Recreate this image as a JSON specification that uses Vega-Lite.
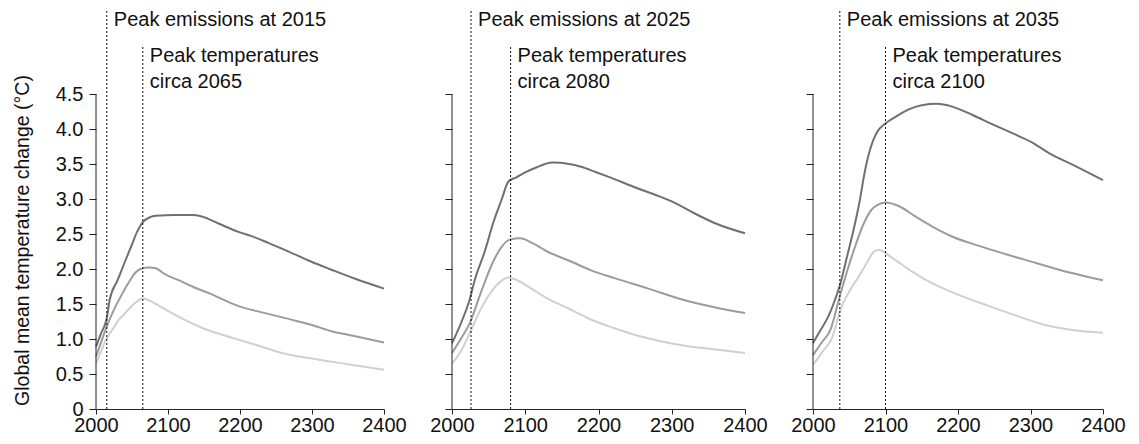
{
  "$schema": "https://vega.github.io/schema/vega-lite/v6.json",
  "padding": {"left": 12, "top": 0, "right": 0, "bottom": 0},
  "background": "white",
  "config": {"view": {"stroke": null}, "font": "Liberation Sans", "text": {"font": "Liberation Sans"}},
  "bounds": "flush",
  "spacing": 68,
  "datasets": {
    "curves": [
      {"panel": 1, "scenario": "high", "year": 2000, "temp": 0.89},
      {"panel": 1, "scenario": "high", "year": 2007, "temp": 1.08},
      {"panel": 1, "scenario": "high", "year": 2015, "temp": 1.30},
      {"panel": 1, "scenario": "high", "year": 2019, "temp": 1.56},
      {"panel": 1, "scenario": "high", "year": 2030, "temp": 1.84},
      {"panel": 1, "scenario": "high", "year": 2040, "temp": 2.10},
      {"panel": 1, "scenario": "high", "year": 2050, "temp": 2.35},
      {"panel": 1, "scenario": "high", "year": 2057, "temp": 2.53},
      {"panel": 1, "scenario": "high", "year": 2065, "temp": 2.67},
      {"panel": 1, "scenario": "high", "year": 2075, "temp": 2.74},
      {"panel": 1, "scenario": "high", "year": 2083, "temp": 2.76},
      {"panel": 1, "scenario": "high", "year": 2110, "temp": 2.77},
      {"panel": 1, "scenario": "high", "year": 2134, "temp": 2.77},
      {"panel": 1, "scenario": "high", "year": 2147, "temp": 2.75},
      {"panel": 1, "scenario": "high", "year": 2170, "temp": 2.65},
      {"panel": 1, "scenario": "high", "year": 2198, "temp": 2.53},
      {"panel": 1, "scenario": "high", "year": 2216, "temp": 2.47},
      {"panel": 1, "scenario": "high", "year": 2240, "temp": 2.37},
      {"panel": 1, "scenario": "high", "year": 2263, "temp": 2.27},
      {"panel": 1, "scenario": "high", "year": 2300, "temp": 2.10},
      {"panel": 1, "scenario": "high", "year": 2327, "temp": 1.99},
      {"panel": 1, "scenario": "high", "year": 2360, "temp": 1.86},
      {"panel": 1, "scenario": "high", "year": 2400, "temp": 1.72},
      {"panel": 1, "scenario": "mid", "year": 2000, "temp": 0.75},
      {"panel": 1, "scenario": "mid", "year": 2008, "temp": 0.98},
      {"panel": 1, "scenario": "mid", "year": 2015, "temp": 1.18},
      {"panel": 1, "scenario": "mid", "year": 2025, "temp": 1.42},
      {"panel": 1, "scenario": "mid", "year": 2035, "temp": 1.62},
      {"panel": 1, "scenario": "mid", "year": 2045, "temp": 1.80},
      {"panel": 1, "scenario": "mid", "year": 2055, "temp": 1.95},
      {"panel": 1, "scenario": "mid", "year": 2062, "temp": 2.00},
      {"panel": 1, "scenario": "mid", "year": 2074, "temp": 2.02},
      {"panel": 1, "scenario": "mid", "year": 2083, "temp": 2.01},
      {"panel": 1, "scenario": "mid", "year": 2095, "temp": 1.93},
      {"panel": 1, "scenario": "mid", "year": 2115, "temp": 1.84},
      {"panel": 1, "scenario": "mid", "year": 2134, "temp": 1.75},
      {"panel": 1, "scenario": "mid", "year": 2160, "temp": 1.64},
      {"panel": 1, "scenario": "mid", "year": 2198, "temp": 1.47},
      {"panel": 1, "scenario": "mid", "year": 2235, "temp": 1.37},
      {"panel": 1, "scenario": "mid", "year": 2270, "temp": 1.28},
      {"panel": 1, "scenario": "mid", "year": 2300, "temp": 1.20},
      {"panel": 1, "scenario": "mid", "year": 2327, "temp": 1.11},
      {"panel": 1, "scenario": "mid", "year": 2360, "temp": 1.04},
      {"panel": 1, "scenario": "mid", "year": 2400, "temp": 0.95},
      {"panel": 1, "scenario": "low", "year": 2000, "temp": 0.65},
      {"panel": 1, "scenario": "low", "year": 2008, "temp": 0.85},
      {"panel": 1, "scenario": "low", "year": 2015, "temp": 1.01},
      {"panel": 1, "scenario": "low", "year": 2025, "temp": 1.17},
      {"panel": 1, "scenario": "low", "year": 2032, "temp": 1.28},
      {"panel": 1, "scenario": "low", "year": 2037, "temp": 1.33},
      {"panel": 1, "scenario": "low", "year": 2044, "temp": 1.41},
      {"panel": 1, "scenario": "low", "year": 2055, "temp": 1.52},
      {"panel": 1, "scenario": "low", "year": 2065, "temp": 1.58},
      {"panel": 1, "scenario": "low", "year": 2072, "temp": 1.56},
      {"panel": 1, "scenario": "low", "year": 2080, "temp": 1.52},
      {"panel": 1, "scenario": "low", "year": 2097, "temp": 1.42},
      {"panel": 1, "scenario": "low", "year": 2124, "temp": 1.27},
      {"panel": 1, "scenario": "low", "year": 2152, "temp": 1.14},
      {"panel": 1, "scenario": "low", "year": 2175, "temp": 1.06},
      {"panel": 1, "scenario": "low", "year": 2198, "temp": 0.99},
      {"panel": 1, "scenario": "low", "year": 2230, "temp": 0.89},
      {"panel": 1, "scenario": "low", "year": 2258, "temp": 0.80},
      {"panel": 1, "scenario": "low", "year": 2300, "temp": 0.72},
      {"panel": 1, "scenario": "low", "year": 2350, "temp": 0.64},
      {"panel": 1, "scenario": "low", "year": 2400, "temp": 0.56},

      {"panel": 2, "scenario": "high", "year": 2000, "temp": 0.94},
      {"panel": 2, "scenario": "high", "year": 2012, "temp": 1.22},
      {"panel": 2, "scenario": "high", "year": 2024, "temp": 1.56},
      {"panel": 2, "scenario": "high", "year": 2031, "temp": 1.84},
      {"panel": 2, "scenario": "high", "year": 2045, "temp": 2.26},
      {"panel": 2, "scenario": "high", "year": 2056, "temp": 2.65},
      {"panel": 2, "scenario": "high", "year": 2068, "temp": 3.00},
      {"panel": 2, "scenario": "high", "year": 2077, "temp": 3.25},
      {"panel": 2, "scenario": "high", "year": 2088, "temp": 3.31},
      {"panel": 2, "scenario": "high", "year": 2098, "temp": 3.37},
      {"panel": 2, "scenario": "high", "year": 2115, "temp": 3.45},
      {"panel": 2, "scenario": "high", "year": 2137, "temp": 3.52},
      {"panel": 2, "scenario": "high", "year": 2160, "temp": 3.50},
      {"panel": 2, "scenario": "high", "year": 2176, "temp": 3.46},
      {"panel": 2, "scenario": "high", "year": 2195, "temp": 3.39},
      {"panel": 2, "scenario": "high", "year": 2213, "temp": 3.32},
      {"panel": 2, "scenario": "high", "year": 2254, "temp": 3.15},
      {"panel": 2, "scenario": "high", "year": 2280, "temp": 3.05},
      {"panel": 2, "scenario": "high", "year": 2305, "temp": 2.94},
      {"panel": 2, "scenario": "high", "year": 2330, "temp": 2.80},
      {"panel": 2, "scenario": "high", "year": 2360, "temp": 2.65},
      {"panel": 2, "scenario": "high", "year": 2400, "temp": 2.51},
      {"panel": 2, "scenario": "mid", "year": 2000, "temp": 0.80},
      {"panel": 2, "scenario": "mid", "year": 2012, "temp": 1.00},
      {"panel": 2, "scenario": "mid", "year": 2024, "temp": 1.22},
      {"panel": 2, "scenario": "mid", "year": 2040, "temp": 1.68},
      {"panel": 2, "scenario": "mid", "year": 2056, "temp": 2.10},
      {"panel": 2, "scenario": "mid", "year": 2068, "temp": 2.32},
      {"panel": 2, "scenario": "mid", "year": 2079, "temp": 2.42},
      {"panel": 2, "scenario": "mid", "year": 2093, "temp": 2.44},
      {"panel": 2, "scenario": "mid", "year": 2110, "temp": 2.37},
      {"panel": 2, "scenario": "mid", "year": 2130, "temp": 2.25},
      {"panel": 2, "scenario": "mid", "year": 2164, "temp": 2.10},
      {"panel": 2, "scenario": "mid", "year": 2190, "temp": 1.98},
      {"panel": 2, "scenario": "mid", "year": 2222, "temp": 1.87},
      {"panel": 2, "scenario": "mid", "year": 2268, "temp": 1.72},
      {"panel": 2, "scenario": "mid", "year": 2319, "temp": 1.55},
      {"panel": 2, "scenario": "mid", "year": 2360, "temp": 1.45},
      {"panel": 2, "scenario": "mid", "year": 2400, "temp": 1.37},
      {"panel": 2, "scenario": "low", "year": 2000, "temp": 0.65},
      {"panel": 2, "scenario": "low", "year": 2012, "temp": 0.82},
      {"panel": 2, "scenario": "low", "year": 2024, "temp": 1.08},
      {"panel": 2, "scenario": "low", "year": 2038, "temp": 1.40},
      {"panel": 2, "scenario": "low", "year": 2052, "temp": 1.65},
      {"panel": 2, "scenario": "low", "year": 2066, "temp": 1.82},
      {"panel": 2, "scenario": "low", "year": 2077, "temp": 1.88},
      {"panel": 2, "scenario": "low", "year": 2089, "temp": 1.84},
      {"panel": 2, "scenario": "low", "year": 2110, "temp": 1.71},
      {"panel": 2, "scenario": "low", "year": 2130, "temp": 1.58},
      {"panel": 2, "scenario": "low", "year": 2160, "temp": 1.43},
      {"panel": 2, "scenario": "low", "year": 2185, "temp": 1.30},
      {"panel": 2, "scenario": "low", "year": 2220, "temp": 1.16},
      {"panel": 2, "scenario": "low", "year": 2249, "temp": 1.06},
      {"panel": 2, "scenario": "low", "year": 2280, "temp": 0.98},
      {"panel": 2, "scenario": "low", "year": 2314, "temp": 0.91},
      {"panel": 2, "scenario": "low", "year": 2360, "temp": 0.85},
      {"panel": 2, "scenario": "low", "year": 2400, "temp": 0.80},

      {"panel": 3, "scenario": "high", "year": 2000, "temp": 0.94},
      {"panel": 3, "scenario": "high", "year": 2010, "temp": 1.12},
      {"panel": 3, "scenario": "high", "year": 2022, "temp": 1.34},
      {"panel": 3, "scenario": "high", "year": 2030, "temp": 1.55},
      {"panel": 3, "scenario": "high", "year": 2038, "temp": 1.80},
      {"panel": 3, "scenario": "high", "year": 2047, "temp": 2.18},
      {"panel": 3, "scenario": "high", "year": 2056, "temp": 2.56},
      {"panel": 3, "scenario": "high", "year": 2064, "temp": 2.95},
      {"panel": 3, "scenario": "high", "year": 2072, "temp": 3.42},
      {"panel": 3, "scenario": "high", "year": 2080, "temp": 3.75},
      {"panel": 3, "scenario": "high", "year": 2088, "temp": 3.95},
      {"panel": 3, "scenario": "high", "year": 2100, "temp": 4.08},
      {"panel": 3, "scenario": "high", "year": 2115, "temp": 4.18},
      {"panel": 3, "scenario": "high", "year": 2132, "temp": 4.28},
      {"panel": 3, "scenario": "high", "year": 2150, "temp": 4.34},
      {"panel": 3, "scenario": "high", "year": 2171, "temp": 4.36},
      {"panel": 3, "scenario": "high", "year": 2192, "temp": 4.32},
      {"panel": 3, "scenario": "high", "year": 2220, "temp": 4.20},
      {"panel": 3, "scenario": "high", "year": 2247, "temp": 4.07},
      {"panel": 3, "scenario": "high", "year": 2275, "temp": 3.94},
      {"panel": 3, "scenario": "high", "year": 2302, "temp": 3.81},
      {"panel": 3, "scenario": "high", "year": 2325, "temp": 3.66},
      {"panel": 3, "scenario": "high", "year": 2360, "temp": 3.48},
      {"panel": 3, "scenario": "high", "year": 2400, "temp": 3.27},
      {"panel": 3, "scenario": "mid", "year": 2000, "temp": 0.77},
      {"panel": 3, "scenario": "mid", "year": 2012, "temp": 0.95},
      {"panel": 3, "scenario": "mid", "year": 2024, "temp": 1.13},
      {"panel": 3, "scenario": "mid", "year": 2038, "temp": 1.65},
      {"panel": 3, "scenario": "mid", "year": 2048, "temp": 2.00},
      {"panel": 3, "scenario": "mid", "year": 2058, "temp": 2.32},
      {"panel": 3, "scenario": "mid", "year": 2070, "temp": 2.65},
      {"panel": 3, "scenario": "mid", "year": 2081, "temp": 2.85},
      {"panel": 3, "scenario": "mid", "year": 2090, "temp": 2.92},
      {"panel": 3, "scenario": "mid", "year": 2100, "temp": 2.95},
      {"panel": 3, "scenario": "mid", "year": 2118, "temp": 2.90},
      {"panel": 3, "scenario": "mid", "year": 2140, "temp": 2.76},
      {"panel": 3, "scenario": "mid", "year": 2164, "temp": 2.61},
      {"panel": 3, "scenario": "mid", "year": 2195, "temp": 2.45},
      {"panel": 3, "scenario": "mid", "year": 2229, "temp": 2.33},
      {"panel": 3, "scenario": "mid", "year": 2260, "temp": 2.23},
      {"panel": 3, "scenario": "mid", "year": 2293, "temp": 2.13},
      {"panel": 3, "scenario": "mid", "year": 2339, "temp": 1.99},
      {"panel": 3, "scenario": "mid", "year": 2400, "temp": 1.84},
      {"panel": 3, "scenario": "low", "year": 2000, "temp": 0.63},
      {"panel": 3, "scenario": "low", "year": 2014, "temp": 0.83},
      {"panel": 3, "scenario": "low", "year": 2026, "temp": 1.01},
      {"panel": 3, "scenario": "low", "year": 2038, "temp": 1.42},
      {"panel": 3, "scenario": "low", "year": 2050, "temp": 1.68},
      {"panel": 3, "scenario": "low", "year": 2063, "temp": 1.89},
      {"panel": 3, "scenario": "low", "year": 2075, "temp": 2.10},
      {"panel": 3, "scenario": "low", "year": 2084, "temp": 2.25},
      {"panel": 3, "scenario": "low", "year": 2091, "temp": 2.27},
      {"panel": 3, "scenario": "low", "year": 2109, "temp": 2.16},
      {"panel": 3, "scenario": "low", "year": 2130, "temp": 2.01},
      {"panel": 3, "scenario": "low", "year": 2155, "temp": 1.85},
      {"panel": 3, "scenario": "low", "year": 2178, "temp": 1.73},
      {"panel": 3, "scenario": "low", "year": 2201, "temp": 1.63},
      {"panel": 3, "scenario": "low", "year": 2240, "temp": 1.48},
      {"panel": 3, "scenario": "low", "year": 2284, "temp": 1.32},
      {"panel": 3, "scenario": "low", "year": 2320, "temp": 1.20},
      {"panel": 3, "scenario": "low", "year": 2358, "temp": 1.13},
      {"panel": 3, "scenario": "low", "year": 2400, "temp": 1.09}
    ],
    "notes": [
      {"panel": 1, "emis_year": 2015, "emis_text": "Peak emissions at 2015", "temp_year": 2065, "temp_text": "Peak temperatures\ncirca 2065"},
      {"panel": 2, "emis_year": 2026, "emis_text": "Peak emissions at 2025", "temp_year": 2080, "temp_text": "Peak temperatures\ncirca 2080"},
      {"panel": 3, "emis_year": 2037, "emis_text": "Peak emissions at 2035", "temp_year": 2100, "temp_text": "Peak temperatures\ncirca 2100"}
    ]
  },
  "hconcat": [
    {
      "width": 288, "height": 409,
      "layer": [
        {
          "data": {"name": "curves"},
          "transform": [{"filter": "datum.panel == 1"}],
          "mark": {"type": "line", "strokeWidth": 2, "interpolate": "monotone"},
          "encoding": {
            "x": {"field": "year", "type": "quantitative", "scale": {"domain": [2000, 2400], "nice": false, "zero": false},
              "axis": {"values": [2000, 2100, 2200, 2300, 2400], "format": "d", "title": null, "grid": false, "tickSize": 5, "labelPadding": 1, "labelFontSize": 20, "labelColor": "#111", "domainColor": "#222", "tickColor": "#222", "labelOverlap": false, "labelFlush": false, "labelBound": false}},
            "y": {"field": "temp", "type": "quantitative", "scale": {"domain": [0, 5.843], "nice": false, "zero": true},
              "axis": {"values": [0, 0.5, 1, 1.5, 2, 2.5, 3, 3.5, 4, 4.5], "labelExpr": "datum.value == 0 ? '0' : format(datum.value, '.1f')", "domain": false, "grid": false, "tickSize": 7, "labelPadding": 6, "labelFontSize": 20, "labelColor": "#111", "tickColor": "#222", "labelOverlap": false, "labelBound": false,
                "title": "Global mean temperature change (°C)", "titleFontSize": 19.5, "titleFontWeight": "normal", "titleColor": "#111", "titleX": -64, "titleY": 240}},
            "color": {"field": "scenario", "type": "nominal", "scale": {"domain": ["high", "mid", "low"], "range": ["#707070", "#9c9c9c", "#d0d0d0"]}, "legend": null}
          }
        },
        {
          "data": {"name": "notes"},
          "transform": [{"filter": "datum.panel == 1"}],
          "mark": {"type": "rule", "color": "#222", "strokeWidth": 1},
          "encoding": {"x": {"datum": 2000}, "y": {"datum": 0}, "y2": {"datum": 4.5}}
        },
        {
          "data": {"name": "notes"},
          "transform": [{"filter": "datum.panel == 1"}],
          "mark": {"type": "rule", "color": "#111", "strokeWidth": 1, "strokeDash": [2, 2]},
          "encoding": {"x": {"field": "emis_year", "type": "quantitative"}, "y": {"datum": 0}, "y2": {"datum": 5.7}}
        },
        {
          "data": {"name": "notes"},
          "transform": [{"filter": "datum.panel == 1"}],
          "mark": {"type": "rule", "color": "#111", "strokeWidth": 1, "strokeDash": [2, 2]},
          "encoding": {"x": {"field": "temp_year", "type": "quantitative"}, "y": {"datum": 0}, "y2": {"datum": 5.2}}
        },
        {
          "data": {"name": "notes"},
          "transform": [{"filter": "datum.panel == 1"}],
          "mark": {"type": "text", "align": "left", "baseline": "alphabetic", "dx": 7, "fontSize": 20, "color": "#111"},
          "encoding": {"x": {"field": "emis_year", "type": "quantitative"}, "y": {"datum": 5.47}, "text": {"field": "emis_text"}}
        },
        {
          "data": {"name": "notes"},
          "transform": [{"filter": "datum.panel == 1"}],
          "mark": {"type": "text", "align": "left", "baseline": "alphabetic", "dx": 7, "fontSize": 20, "color": "#111", "lineBreak": "\n", "lineHeight": 26},
          "encoding": {"x": {"field": "temp_year", "type": "quantitative"}, "y": {"datum": 4.96}, "text": {"field": "temp_text"}}
        }
      ]
    },
    {
      "width": 293, "height": 409,
      "layer": [
        {
          "data": {"name": "curves"},
          "transform": [{"filter": "datum.panel == 2"}],
          "mark": {"type": "line", "strokeWidth": 2, "interpolate": "monotone"},
          "encoding": {
            "x": {"field": "year", "type": "quantitative", "scale": {"domain": [2000, 2400], "nice": false, "zero": false},
              "axis": {"values": [2000, 2100, 2200, 2300, 2400], "format": "d", "title": null, "grid": false, "tickSize": 5, "labelPadding": 1, "labelFontSize": 20, "labelColor": "#111", "domainColor": "#222", "tickColor": "#222", "labelOverlap": false, "labelFlush": false, "labelBound": false}},
            "y": {"field": "temp", "type": "quantitative", "scale": {"domain": [0, 5.843], "nice": false, "zero": true},
              "axis": {"values": [0, 0.5, 1, 1.5, 2, 2.5, 3, 3.5, 4, 4.5], "labels": false, "domain": false, "grid": false, "tickSize": 7, "tickColor": "#222", "title": null}},
            "color": {"field": "scenario", "type": "nominal", "scale": {"domain": ["high", "mid", "low"], "range": ["#707070", "#9c9c9c", "#d0d0d0"]}, "legend": null}
          }
        },
        {
          "data": {"name": "notes"},
          "transform": [{"filter": "datum.panel == 2"}],
          "mark": {"type": "rule", "color": "#222", "strokeWidth": 1},
          "encoding": {"x": {"datum": 2000}, "y": {"datum": 0}, "y2": {"datum": 4.5}}
        },
        {
          "data": {"name": "notes"},
          "transform": [{"filter": "datum.panel == 2"}],
          "mark": {"type": "rule", "color": "#111", "strokeWidth": 1, "strokeDash": [2, 2]},
          "encoding": {"x": {"field": "emis_year", "type": "quantitative"}, "y": {"datum": 0}, "y2": {"datum": 5.7}}
        },
        {
          "data": {"name": "notes"},
          "transform": [{"filter": "datum.panel == 2"}],
          "mark": {"type": "rule", "color": "#111", "strokeWidth": 1, "strokeDash": [2, 2]},
          "encoding": {"x": {"field": "temp_year", "type": "quantitative"}, "y": {"datum": 0}, "y2": {"datum": 5.2}}
        },
        {
          "data": {"name": "notes"},
          "transform": [{"filter": "datum.panel == 2"}],
          "mark": {"type": "text", "align": "left", "baseline": "alphabetic", "dx": 7, "fontSize": 20, "color": "#111"},
          "encoding": {"x": {"field": "emis_year", "type": "quantitative"}, "y": {"datum": 5.47}, "text": {"field": "emis_text"}}
        },
        {
          "data": {"name": "notes"},
          "transform": [{"filter": "datum.panel == 2"}],
          "mark": {"type": "text", "align": "left", "baseline": "alphabetic", "dx": 7, "fontSize": 20, "color": "#111", "lineBreak": "\n", "lineHeight": 26},
          "encoding": {"x": {"field": "temp_year", "type": "quantitative"}, "y": {"datum": 4.96}, "text": {"field": "temp_text"}}
        }
      ]
    },
    {
      "width": 290, "height": 409,
      "layer": [
        {
          "data": {"name": "curves"},
          "transform": [{"filter": "datum.panel == 3"}],
          "mark": {"type": "line", "strokeWidth": 2, "interpolate": "monotone"},
          "encoding": {
            "x": {"field": "year", "type": "quantitative", "scale": {"domain": [2000, 2400], "nice": false, "zero": false},
              "axis": {"values": [2000, 2100, 2200, 2300, 2400], "format": "d", "title": null, "grid": false, "tickSize": 5, "labelPadding": 1, "labelFontSize": 20, "labelColor": "#111", "domainColor": "#222", "tickColor": "#222", "labelOverlap": false, "labelFlush": false, "labelBound": false}},
            "y": {"field": "temp", "type": "quantitative", "scale": {"domain": [0, 5.843], "nice": false, "zero": true},
              "axis": {"values": [0, 0.5, 1, 1.5, 2, 2.5, 3, 3.5, 4, 4.5], "labels": false, "domain": false, "grid": false, "tickSize": 7, "tickColor": "#222", "title": null}},
            "color": {"field": "scenario", "type": "nominal", "scale": {"domain": ["high", "mid", "low"], "range": ["#707070", "#9c9c9c", "#d0d0d0"]}, "legend": null}
          }
        },
        {
          "data": {"name": "notes"},
          "transform": [{"filter": "datum.panel == 3"}],
          "mark": {"type": "rule", "color": "#222", "strokeWidth": 1},
          "encoding": {"x": {"datum": 2000}, "y": {"datum": 0}, "y2": {"datum": 4.5}}
        },
        {
          "data": {"name": "notes"},
          "transform": [{"filter": "datum.panel == 3"}],
          "mark": {"type": "rule", "color": "#111", "strokeWidth": 1, "strokeDash": [2, 2]},
          "encoding": {"x": {"field": "emis_year", "type": "quantitative"}, "y": {"datum": 0}, "y2": {"datum": 5.7}}
        },
        {
          "data": {"name": "notes"},
          "transform": [{"filter": "datum.panel == 3"}],
          "mark": {"type": "rule", "color": "#111", "strokeWidth": 1, "strokeDash": [2, 2]},
          "encoding": {"x": {"field": "temp_year", "type": "quantitative"}, "y": {"datum": 0}, "y2": {"datum": 5.2}}
        },
        {
          "data": {"name": "notes"},
          "transform": [{"filter": "datum.panel == 3"}],
          "mark": {"type": "text", "align": "left", "baseline": "alphabetic", "dx": 7, "fontSize": 20, "color": "#111"},
          "encoding": {"x": {"field": "emis_year", "type": "quantitative"}, "y": {"datum": 5.47}, "text": {"field": "emis_text"}}
        },
        {
          "data": {"name": "notes"},
          "transform": [{"filter": "datum.panel == 3"}],
          "mark": {"type": "text", "align": "left", "baseline": "alphabetic", "dx": 7, "fontSize": 20, "color": "#111", "lineBreak": "\n", "lineHeight": 26},
          "encoding": {"x": {"field": "temp_year", "type": "quantitative"}, "y": {"datum": 4.96}, "text": {"field": "temp_text"}}
        }
      ]
    }
  ]
}
